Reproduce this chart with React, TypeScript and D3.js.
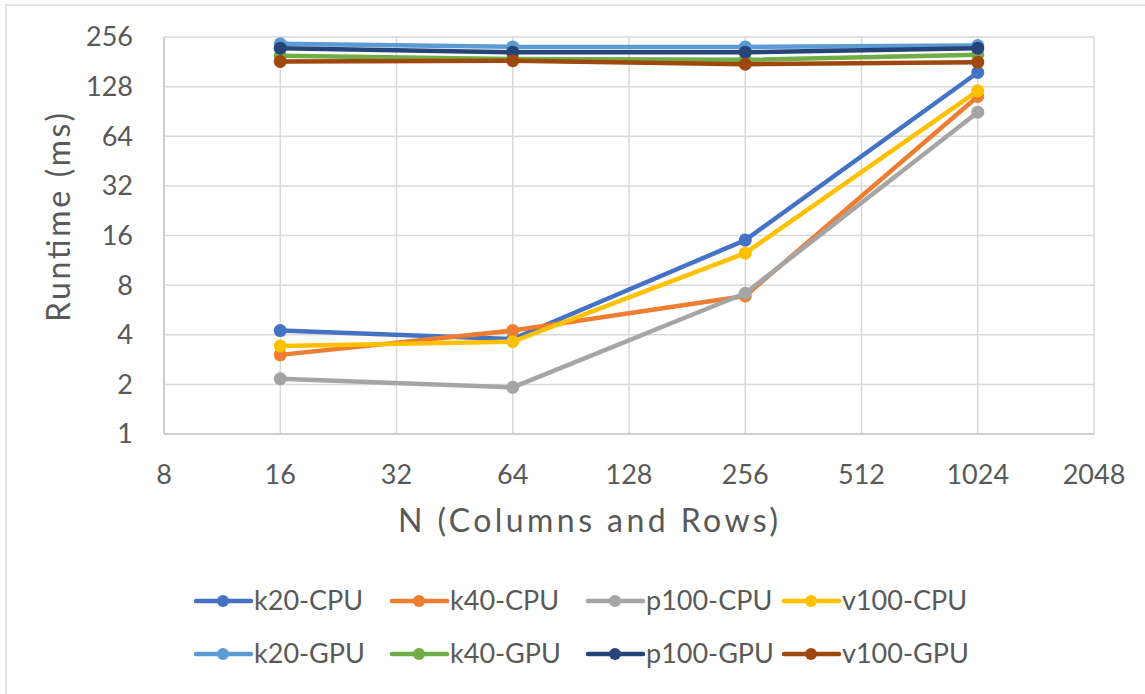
import React from 'react'
import * as d3 from 'd3'

// N values and log2 tick labels
const sizes = [16, 64, 256, 1024]
const xTicks = [8, 16, 32, 64, 128, 256, 512, 1024, 2048]
const yTicks = [1, 2, 4, 8, 16, 32, 64, 128, 256]

// runtimes in ms
const k20CPU = [4.24, 3.77, 15.0, 156]
const k40CPU = [3.02, 4.24, 6.88, 111.5]
const p100CPU = [2.16, 1.92, 7.14, 89.6]
const v100CPU = [3.42, 3.63, 12.5, 120.7]
const k20GPU = [233, 223, 223, 227]
const k40GPU = [197, 188, 186, 200]
const p100GPU = [219, 207, 207, 219]
const v100GPU = [182, 184, 175, 180]

const seriesNames = ['k20-CPU', 'k40-CPU', 'p100-CPU', 'v100-CPU', 'k20-GPU', 'k40-GPU', 'p100-GPU', 'v100-GPU']
const seriesValues = [k20CPU, k40CPU, p100CPU, v100CPU, k20GPU, k40GPU, p100GPU, v100GPU]
const colors = ['#4472C4', '#ED7D31', '#A5A5A5', '#FFC000', '#5B9BD5', '#70AD47', '#264478', '#9E480E']

const W = 1145
const H = 694
const plot = { left: 164, right: 1094, top: 37, bottom: 434 }
const font = 'Lato, "Open Sans", sans-serif'
const textColor = '#595959'
const gridColor = '#d9d9d9'

export default function App() {
  const x = d3.scaleLog().base(2).domain([8, 2048]).range([plot.left, plot.right])
  const y = d3.scaleLog().base(2).domain([1, 256]).range([plot.bottom, plot.top])

  const line = d3.line<[number, number]>()
    .x(d => x(d[0]))
    .y(d => y(d[1]))

  const legendX = d3.scalePoint<number>().domain([0, 1, 2, 3]).range([196, 196 + 3 * 196])
  const legendY = [601, 654]

  return (
    <svg width={W} height={H} style={{ position: 'absolute', left: 0, top: 0, background: '#fff' }}>
      <rect x={6} y={5} width={W + 20} height={H + 20} fill="#fff" stroke={gridColor} strokeWidth={1.5} />

      {/* grid */}
      <g>
        {yTicks.map(t => (
          <line key={'gy' + t} x1={plot.left} x2={plot.right} y1={y(t)} y2={y(t)} stroke={gridColor} strokeWidth={1.5} />
        ))}
        {xTicks.map(t => (
          <line key={'gx' + t} x1={x(t)} x2={x(t)} y1={plot.top} y2={plot.bottom} stroke={gridColor} strokeWidth={1.5} />
        ))}
        <line x1={plot.left} x2={plot.left} y1={plot.top} y2={plot.bottom} stroke="#c8c8c8" strokeWidth={1.5} />
        <line x1={plot.left} x2={plot.right} y1={plot.bottom} y2={plot.bottom} stroke="#c8c8c8" strokeWidth={1.5} />
      </g>

      {/* tick labels */}
      <g fontFamily={font} fontSize={27} fill={textColor}>
        {yTicks.map(t => (
          <text key={'ty' + t} x={133} y={y(t)} dy="0.35em" textAnchor="end">{t}</text>
        ))}
        {xTicks.map(t => (
          <text key={'tx' + t} x={x(t)} y={484} textAnchor="middle">{t}</text>
        ))}
      </g>

      {/* axis titles */}
      <text x={398} y={532} textLength={380} lengthAdjust="spacing" fontFamily={font} fontSize={32} fill={textColor}>N (Columns and Rows)</text>
      <text transform="translate(70,322) rotate(-90)" textLength={209} lengthAdjust="spacing" fontFamily={font} fontSize={32} fill={textColor}>Runtime (ms)</text>

      {/* series */}
      {seriesValues.map((vals, i) => {
        const pts: [number, number][] = sizes.map((s, j) => [s, vals[j]])
        return (
          <g key={seriesNames[i]}>
            <path d={line(pts) || ''} fill="none" stroke={colors[i]} strokeWidth={4.5} strokeLinejoin="round" strokeLinecap="round" />
            {pts.map((p, j) => (
              <circle key={j} cx={x(p[0])} cy={y(p[1])} r={6.5} fill={colors[i]} />
            ))}
          </g>
        )
      })}

      {/* legend */}
      <g fontFamily={font} fontSize={27} fill={textColor}>
        {seriesNames.map((name, i) => {
          const lx = legendX(i % 4) as number
          const ly = legendY[Math.floor(i / 4)]
          return (
            <g key={'lg' + name}>
              <line x1={lx} x2={lx + 55} y1={ly} y2={ly} stroke={colors[i]} strokeWidth={4.5} strokeLinecap="round" />
              <circle cx={lx + 27} cy={ly} r={6} fill={colors[i]} />
              <text x={lx + 58} y={ly} dy="0.35em">{name}</text>
            </g>
          )
        })}
      </g>
    </svg>
  )
}
